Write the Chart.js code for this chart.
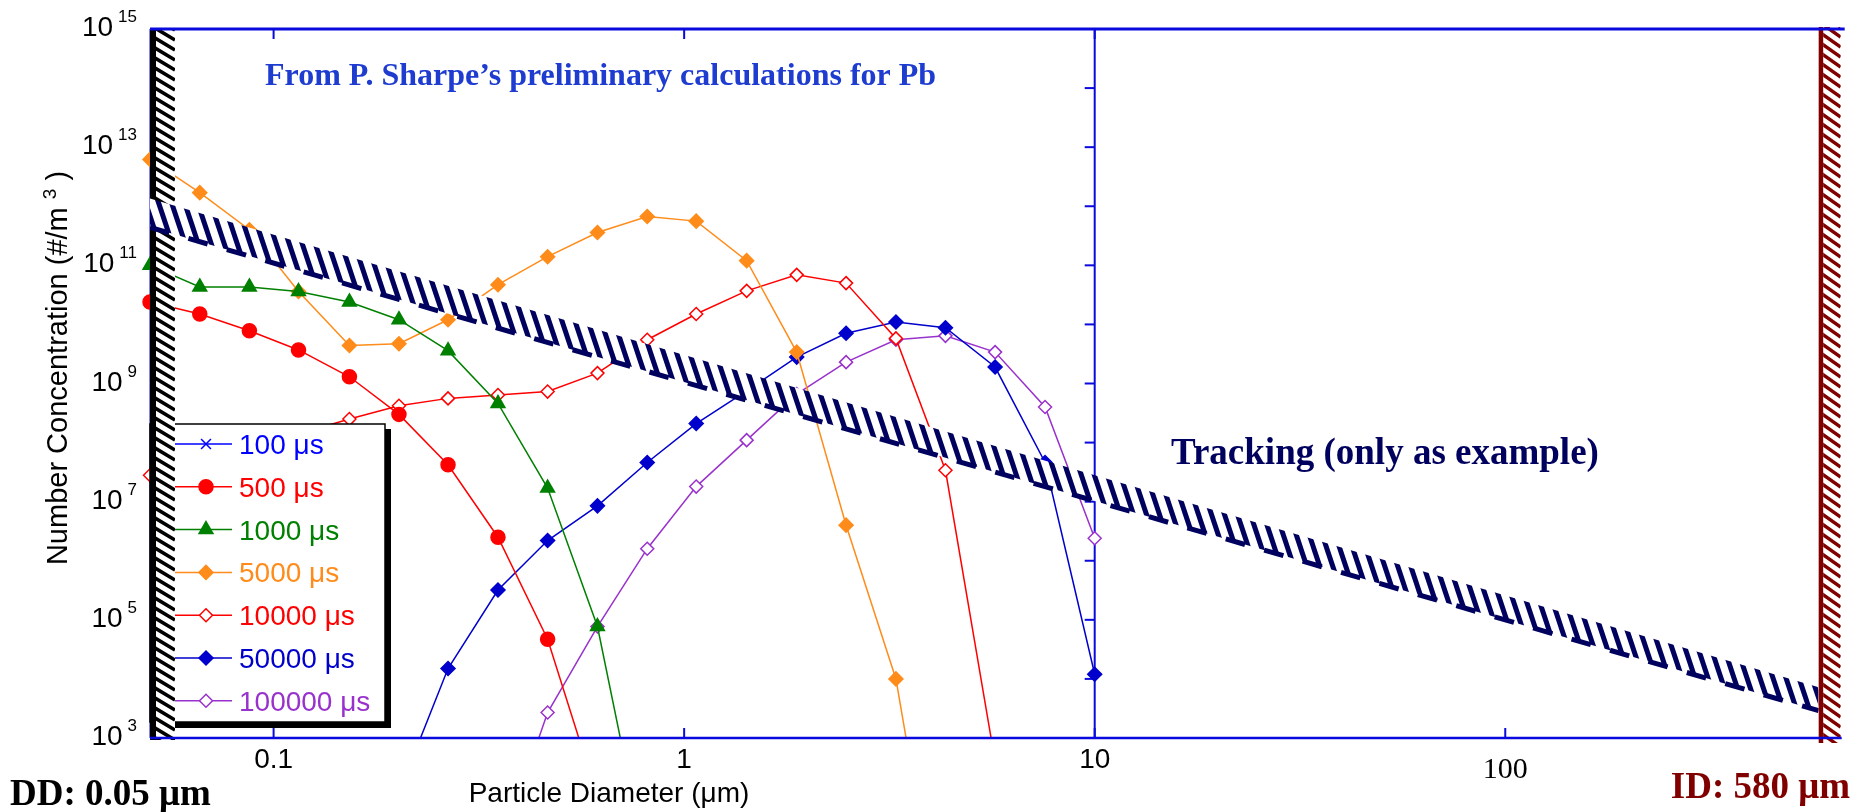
<!DOCTYPE html>
<html>
<head>
<meta charset="utf-8">
<script src="https://cdn.jsdelivr.net/npm/chart.js@4"></script>
<style>
  html, body { margin: 0; padding: 0; background: #ffffff; }
  #wrap { width: 1854px; height: 812px; }
  canvas { display: block; }
</style>
</head>
<body>
<div id="wrap"><canvas id="chart" width="1854" height="812"></canvas></div>
<script>
// ---- data -------------------------------------------------------------
// Particle diameter grid (µm), log-spaced from 0.05 to 10
const diameters = [0.05, 0.0661, 0.0873, 0.115, 0.153, 0.202, 0.266, 0.352, 0.465, 0.615,
                   0.813, 1.07, 1.42, 1.88, 2.48, 3.28, 4.33, 5.72, 7.57, 10];

const seriesLabels = ['100 μs', '500 μs', '1000 μs', '5000 μs', '10000 μs', '50000 μs', '100000 μs'];

// Number concentration (#/m^3) per diameter; null = no value in range
const conc100 = [null, null, null, null, null, null, null, null, null, null,
                 null, null, null, null, null, null, null, null, null, null];
const conc500 = [2.4e10, 1.5e10, 7.8e9, 3.7e9, 1.3e9, 3.0e8, 4.2e7, 2.5e6, 4.7e4, 1.0e2,
                 null, null, null, null, null, null, null, null, null, null];
const conc1000 = [1.0e11, 4.3e10, 4.3e10, 3.6e10, 2.4e10, 1.2e10, 3.6e9, 4.6e8, 1.7e7, 7.7e4,
                  6, null, null, null, null, null, null, null, null, null];
const conc5000 = [6.2e12, 1.7e12, 4.0e11, 3.6e10, 4.4e9, 4.7e9, 1.2e10, 4.7e10, 1.4e11, 3.6e11,
                  6.7e11, 5.6e11, 1.2e11, 3.4e9, 4.0e6, 1.0e4, 0.13, null, null, null];
const conc10000 = [2.8e7, 5.0e7, 8.0e7, 1.4e8, 2.5e8, 4.2e8, 5.6e8, 6.4e8, 7.3e8, 1.5e9,
                   5.5e9, 1.5e10, 3.7e10, 6.9e10, 5.0e10, 5.8e9, 3.4e7, 4.0e2, null, null];
const conc50000 = [null, null, null, null, null, 1.2e2, 1.5e4, 3.2e5, 2.2e6, 8.5e6,
                   4.6e7, 2.1e8, 7.5e8, 2.8e9, 7.1e9, 1.1e10, 8.8e9, 1.9e9, 4.6e7, 1.2e4];
const conc100000 = [null, null, null, null, null, null, null, 10, 2.7e3, 7.7e4,
                    1.6e6, 1.8e7, 1.1e8, 6.6e8, 2.3e9, 5.5e9, 6.4e9, 3.4e9, 4.0e8, 2.4e6];

const seriesValues = [conc100, conc500, conc1000, conc5000, conc10000, conc50000, conc100000];

// Tracking band (example): upper and lower edge at the two diameter limits
const trackingDiameters = [0.05, 580];
const trackingUpper = [1.35e12, 7.2e3];
const trackingLower = [4.4e11, 2.9e3];

// Diameter limits marked by hatched bars
const ddDiameter = 0.05;
const idDiameter = 580;

// Axis ticks
const xTickValues = [0.1, 1, 10];
const xTickLabels = ['0.1', '1', '10'];
const xExtraTickValues = [100];
const xExtraTickLabels = ['100'];
const yLabelExponents = [3, 5, 7, 9, 11, 13, 15];
const yEdgeTickExponents = [3, 4, 5, 6, 7, 8, 9, 10, 11, 12, 13, 14, 15];

// ---- styles -----------------------------------------------------------
const SANS = '"Liberation Sans", Arial, sans-serif';
const SERIF = '"Liberation Serif", "Times New Roman", serif';
const AXIS_BLUE = '#0a0ade';
const NAVY = '#00005e';

const seriesStyles = [
  { color: '#0000ff', pointStyle: 'crossRot', radius: 7, filled: false },
  { color: '#ff0000', pointStyle: 'circle', radius: 7, filled: true },
  { color: '#008000', pointStyle: 'triangle', radius: 8, filled: true },
  { color: '#ff8c1a', pointStyle: 'rectRot', radius: 7, filled: true },
  { color: '#ff0000', pointStyle: 'rectRot', radius: 6.5, filled: false },
  { color: '#0000cd', pointStyle: 'rectRot', radius: 7, filled: true },
  { color: '#9932cc', pointStyle: 'rectRot', radius: 6.5, filled: false }
];

// Steep diagonal stripes for the tracking band
function bandPattern() {
  const w = 13, h = 39;
  const c = document.createElement('canvas');
  c.width = w; c.height = h;
  const g = c.getContext('2d');
  g.fillStyle = '#ffffff';
  g.fillRect(0, 0, w, h);
  g.strokeStyle = NAVY;
  g.lineWidth = 5;
  g.beginPath();
  for (const off of [-w, 0, w]) {
    g.moveTo(off - w / 2, -h / 2);
    g.lineTo(off + w * 1.5, h * 1.5);
  }
  g.stroke();
  return g.createPattern(c, 'repeat');
}

const datasets = seriesValues.map((vals, i) => {
  const s = seriesStyles[i];
  return {
    label: seriesLabels[i],
    data: diameters.map((d, k) => ({ x: d, y: vals[k] })),
    borderColor: s.color,
    backgroundColor: s.filled ? s.color : '#ffffff',
    borderWidth: 1.5,
    pointStyle: s.pointStyle,
    pointRadius: s.radius,
    pointBorderWidth: 1.5,
    pointBorderColor: s.color,
    pointBackgroundColor: s.filled ? s.color : '#ffffff',
    fill: false,
    tension: 0,
    spanGaps: false,
    clip: { left: 12, top: 8, right: 8, bottom: 0 },
    order: 0
  };
});

// The band is drawn after all series (lower order => drawn later)
datasets.push({
  label: 'Tracking upper',
  data: trackingDiameters.map((d, k) => ({ x: d, y: trackingUpper[k] })),
  borderColor: 'rgba(0,0,0,0)',
  borderWidth: 0,
  pointRadius: 0,
  fill: false,
  order: -1
});
datasets.push({
  label: 'Tracking lower',
  data: trackingDiameters.map((d, k) => ({ x: d, y: trackingLower[k] })),
  borderColor: NAVY,
  borderWidth: 5,
  borderDash: [20, 20],
  pointRadius: 0,
  fill: '-1',
  backgroundColor: bandPattern(),
  order: -1
});

// ---- drawing helpers --------------------------------------------------
function seg(ctx, x1, y1, x2, y2) {
  ctx.beginPath(); ctx.moveTo(x1, y1); ctx.lineTo(x2, y2); ctx.stroke();
}

function hatchBar(ctx, x0, solidW, totalW, top, bottom, color, spacing, slope, lw) {
  ctx.save();
  ctx.fillStyle = '#ffffff';
  ctx.fillRect(x0, top, totalW, bottom - top);
  ctx.fillStyle = color;
  ctx.fillRect(x0, top, solidW, bottom - top);
  ctx.beginPath();
  ctx.rect(x0 + solidW, top, totalW - solidW, bottom - top);
  ctx.clip();
  ctx.strokeStyle = color;
  ctx.lineWidth = lw;
  ctx.beginPath();
  for (let yy = top - totalW * slope - spacing; yy < bottom + spacing; yy += spacing) {
    ctx.moveTo(x0, yy);
    ctx.lineTo(x0 + totalW, yy + totalW * slope);
  }
  ctx.stroke();
  ctx.restore();
}

function drawMarker(ctx, s, x, y) {
  ctx.save();
  ctx.strokeStyle = s.color;
  ctx.fillStyle = s.filled ? s.color : '#ffffff';
  ctx.lineWidth = 1.5;
  Chart.helpers.drawPoint(ctx, { pointStyle: s.pointStyle, radius: s.radius, rotation: 0, borderWidth: 1.5 }, x, y);
  ctx.restore();
}

// Frame lines/ticks under the data
const frameUnder = {
  id: 'frameUnder',
  beforeDatasetsDraw(chart) {
    const { ctx, chartArea: a, scales: { x, y } } = chart;
    ctx.save();
    ctx.strokeStyle = AXIS_BLUE;
    ctx.lineWidth = 1;
    seg(ctx, a.left, a.top, a.left, a.bottom);
    // right edge of the computed range (at 10 µm)
    const edgeX = x.getPixelForValue(10);
    ctx.lineWidth = 2;
    seg(ctx, edgeX, a.top, edgeX, a.bottom);
    for (const e of yEdgeTickExponents) {
      const py = y.getPixelForValue(Math.pow(10, e));
      seg(ctx, edgeX - 10, py, edgeX, py);
    }
    for (const v of xTickValues) {
      const px = x.getPixelForValue(v);
      seg(ctx, px, a.top, px, a.top + 10);
      seg(ctx, px, a.bottom, px, a.bottom - 10);
    }
    for (const v of xExtraTickValues) {
      const px = x.getPixelForValue(v);
      seg(ctx, px, a.bottom, px, a.bottom - 10);
    }
    ctx.restore();
  }
};

// Legend and the DD bar: after the last series, before the tracking band
const legendAndDD = {
  id: 'legendAndDD',
  afterDatasetDraw(chart, args) {
    if (args.index !== 0) return;
    const { ctx, chartArea: a, scales: { x } } = chart;
    ctx.save();
    const lg = { left: a.left, top: 424, right: 385, bottom: 722 };
    const lw = lg.right - lg.left, lh = lg.bottom - lg.top;
    ctx.fillStyle = '#000000';
    ctx.fillRect(lg.left + 5, lg.top + 5, lw + 1, lh + 1);
    ctx.fillStyle = '#ffffff';
    ctx.fillRect(lg.left, lg.top, lw, lh);
    ctx.strokeStyle = '#000000';
    ctx.lineWidth = 1.5;
    ctx.strokeRect(lg.left, lg.top, lw, lh);
    ctx.font = '28px ' + SANS;
    ctx.textAlign = 'left';
    ctx.textBaseline = 'alphabetic';
    seriesLabels.forEach((lab, i) => {
      const s = seriesStyles[i];
      const ry = 444 + i * 42.8;
      ctx.strokeStyle = s.color;
      ctx.lineWidth = 1.5;
      seg(ctx, lg.left + 8, ry, 232, ry);
      drawMarker(ctx, s, 206, ry);
      ctx.fillStyle = s.color;
      ctx.fillText(lab, 239, ry + 10);
    });
    const ddX = x.getPixelForValue(ddDiameter);
    hatchBar(ctx, ddX, 6, 25, a.top + 1, a.bottom + 2, '#000000', 10, 0.6, 3.6);
    ctx.restore();
  }
};

// ID bar, outer frame and all text on top
const overlay = {
  id: 'overlay',
  afterDatasetsDraw(chart) {
    const { ctx, chartArea: a, scales: { x, y } } = chart;
    ctx.save();

    const idX = x.getPixelForValue(idDiameter);
    hatchBar(ctx, idX, 4.5, 22, a.top - 2, a.bottom + 5, '#800000', 10, 0.7, 3.4);

    ctx.strokeStyle = AXIS_BLUE;
    const frameRight = idX + 26;
    ctx.lineWidth = 3;
    seg(ctx, a.left, a.top, frameRight, a.top);
    ctx.lineWidth = 2.5;
    seg(ctx, a.left, a.bottom, frameRight - 3, a.bottom);

    // y tick labels 10^n
    ctx.fillStyle = '#000000';
    ctx.textBaseline = 'alphabetic';
    for (const e of yLabelExponents) {
      const py = y.getPixelForValue(Math.pow(10, e));
      const es = String(e);
      ctx.font = '17px ' + SANS;
      const ew = ctx.measureText(es).width;
      ctx.textAlign = 'left';
      ctx.fillText(es, a.left - 13 - ew, py - 7);
      ctx.font = '28px ' + SANS;
      ctx.textAlign = 'right';
      ctx.fillText('10', a.left - 13 - ew - 5, py + 7);
    }

    // x tick labels
    ctx.textAlign = 'center';
    ctx.font = '28px ' + SANS;
    xTickValues.forEach((v, i) => ctx.fillText(xTickLabels[i], x.getPixelForValue(v), 768));
    ctx.font = '30px ' + SERIF;
    xExtraTickValues.forEach((v, i) => ctx.fillText(xExtraTickLabels[i], x.getPixelForValue(v), 778));

    // x axis title
    ctx.font = '28px ' + SANS;
    ctx.fillText('Particle Diameter (μm)', 609, 802);

    // y axis title (rotated, with superscript)
    ctx.save();
    ctx.translate(67, 368);
    ctx.rotate(-Math.PI / 2);
    ctx.textAlign = 'left';
    const mainTxt = 'Number Concentration (#/m ';
    ctx.font = '29px ' + SANS;
    const wMain = ctx.measureText(mainTxt).width;
    const wClose = ctx.measureText(' )').width;
    ctx.font = '19px ' + SANS;
    const wSup = ctx.measureText('3').width;
    const total = wMain + wSup + wClose;
    let cx = -total / 2;
    ctx.font = '29px ' + SANS;
    ctx.fillText(mainTxt, cx, 0);
    cx += wMain;
    ctx.font = '19px ' + SANS;
    ctx.fillText('3', cx, -11);
    cx += wSup;
    ctx.font = '29px ' + SANS;
    ctx.fillText(' )', cx, 0);
    ctx.restore();

    // annotations
    ctx.textAlign = 'left';
    ctx.font = 'bold 32px ' + SERIF;
    ctx.fillStyle = '#1e3cd0';
    ctx.fillText('From P. Sharpe’s preliminary calculations for Pb', 265, 85);

    ctx.font = 'bold 37px ' + SERIF;
    ctx.fillStyle = NAVY;
    ctx.fillText('Tracking (only as example)', 1171, 464);

    ctx.fillStyle = '#000000';
    ctx.fillText('DD: 0.05 μm', 10, 805);
    ctx.textAlign = 'right';
    ctx.fillStyle = '#800000';
    ctx.fillText('ID: 580 μm', 1850, 798);

    ctx.restore();
  }
};

new Chart(document.getElementById('chart'), {
  type: 'line',
  data: { datasets },
  options: {
    responsive: false,
    animation: false,
    devicePixelRatio: 1,
    events: [],
    layout: { padding: { left: 150, right: 15, top: 29, bottom: 74 } },
    scales: {
      x: { type: 'logarithmic', min: 0.05, max: 650, bounds: 'data', display: false },
      y: { type: 'logarithmic', min: 1e3, max: 1e15, bounds: 'data', display: false }
    },
    plugins: {
      legend: { display: false },
      tooltip: { enabled: false },
      title: { display: false }
    }
  },
  plugins: [frameUnder, legendAndDD, overlay]
});
</script>
</body>
</html>
